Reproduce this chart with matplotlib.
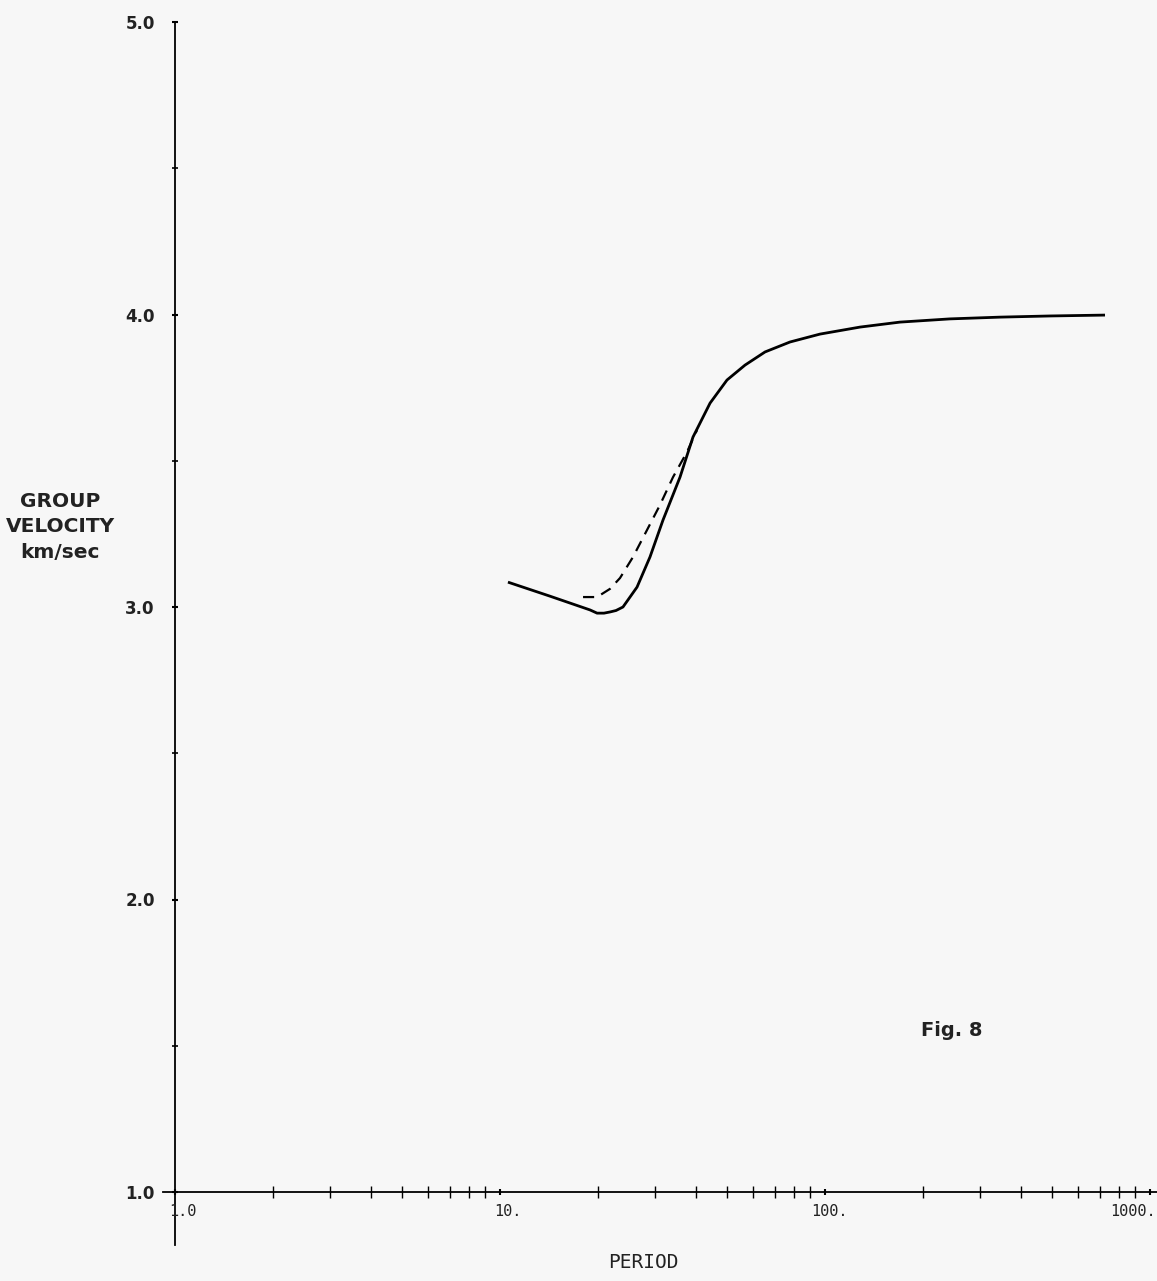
import matplotlib
matplotlib.use("Agg")
import matplotlib.pyplot as plt
from matplotlib.ticker import FixedLocator, NullFormatter

# data
solid_period = [10.58, 14.25, 18.92, 19.89, 20.89, 21.80, 22.75, 23.90, 26.40, 28.94, 31.73,
                35.80, 39.25, 44.29, 49.94, 56.74, 65.39, 78.04, 96.5, 128.2, 170.1, 242.4,
                345.5, 492.4, 727.0]
solid_vel = [3.085, 3.037, 2.990, 2.979, 2.979, 2.983, 2.988, 3.000, 3.068, 3.171, 3.297,
             3.444, 3.581, 3.697, 3.776, 3.827, 3.872, 3.906, 3.933, 3.957, 3.974, 3.985,
             3.991, 3.995, 3.998]
dash_period = [18.01, 19.89, 21.80, 23.40, 25.66, 28.33, 31.07, 34.07, 37.62, 40.38]
dash_vel = [3.034, 3.034, 3.062, 3.099, 3.171, 3.263, 3.349, 3.444, 3.530, 3.605]
x_major = [1, 10, 100, 1000]
x_major_labels = ["1.0", "10.", "100.", "1000."]
y_major = [1.0, 2.0, 3.0, 4.0, 5.0]
y_labels = ["1.0", "2.0", "3.0", "4.0", "5.0"]
y_minor = [1.5, 2.5, 3.5, 4.5]

W, H = 1157, 1281
fig = plt.figure(figsize=(W / 100, H / 100), dpi=100)
fig.patch.set_facecolor("#f7f7f7")
left, right, top, bottom = 175, 1150, 22, 1192
ax = fig.add_axes([left / W, 1 - bottom / H, (right - left) / W, (bottom - top) / H])
ax.set_facecolor("#f7f7f7")
ax.set_xscale("log")
ax.set_xlim(1, 1000)
ax.set_ylim(1.0, 5.0)
for s in ax.spines.values():
    s.set_visible(False)

# axis lines (extending slightly beyond the frame like the plotter drawing)
ax.plot([-0.012, 1.01], [0, 0], transform=ax.transAxes, color="black", lw=1.3, clip_on=False)
ax.plot([0, 0], [-0.045, 1.0], transform=ax.transAxes, color="black", lw=1.3, clip_on=False)

ax.plot(solid_period, solid_vel, color="black", lw=2.0, solid_joinstyle="round",
        solid_capstyle="butt")
ax.plot(dash_period, dash_vel, color="black", lw=1.6, ls=(0, (5, 3.5)),
        dash_joinstyle="round")

# ticks
minor_x = [m * d for d in [1, 10, 100] for m in range(2, 10)]
ax.xaxis.set_major_locator(FixedLocator(x_major))
ax.xaxis.set_minor_locator(FixedLocator(minor_x))
ax.xaxis.set_minor_formatter(NullFormatter())
ax.set_xticklabels([])
ax.tick_params(axis="x", which="minor", direction="inout", length=9, width=1.0, color="black")
ax.tick_params(axis="x", which="major", direction="inout", length=4, width=1.5, color="black")
ax.yaxis.set_major_locator(FixedLocator(y_major))
ax.yaxis.set_minor_locator(FixedLocator(y_minor))
ax.set_yticklabels(y_labels)
ax.tick_params(axis="y", which="major", direction="inout", length=5, width=1.5, pad=12,
               labelsize=12, color="black")
ax.tick_params(axis="y", which="minor", direction="inout", length=5, width=1.2, color="black")
for t in ax.get_yticklabels():
    t.set_fontweight("bold")
    t.set_color("#222222")

# x tick labels, placed just under each decade tick like the original
label_offsets = [6, 6, 3, -12]
for v, lab, off in zip(x_major, x_major_labels, label_offsets):
    ax.annotate(lab, xy=(v, 0), xycoords=("data", "axes fraction"), xytext=(off, -9),
                textcoords="offset points", ha="center", va="top", fontsize=11,
                family="DejaVu Sans Mono", color="#222222", annotation_clip=False)

fig.text(60 / W, 1 - 527 / H, "GROUP\nVELOCITY\nkm/sec", ha="center", va="center",
         fontsize=14.5, fontweight="bold", linespacing=1.45, color="#222222")
fig.text(643 / W, 1 - 1262 / H, "PERIOD", ha="center", va="center", fontsize=14,
         family="DejaVu Sans Mono", color="#222222")
fig.text(952 / W, 1 - 1030 / H, "Fig. 8", ha="center", va="center", fontsize=14,
         fontweight="bold", color="#222222")

fig.savefig("out.png", dpi=100, facecolor=fig.get_facecolor())
